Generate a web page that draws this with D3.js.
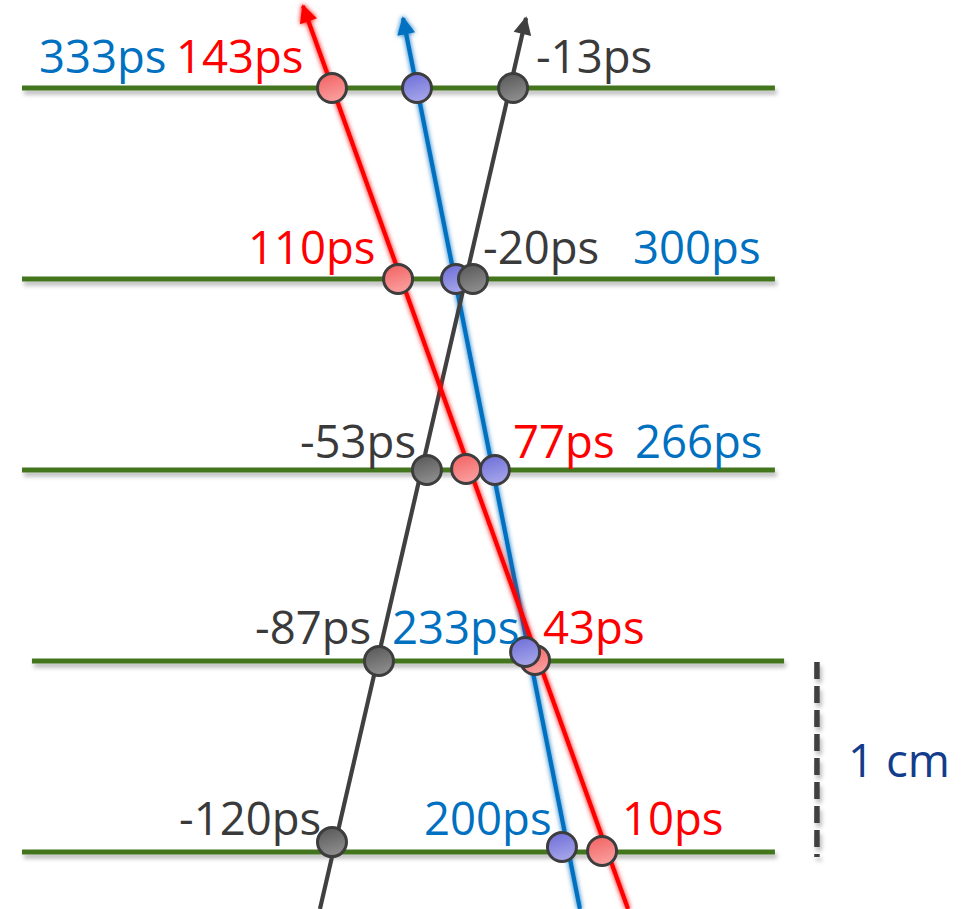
<!DOCTYPE html>
<html>
<head>
<meta charset="utf-8">
<script src="https://cdn.jsdelivr.net/npm/d3@7"></script>
<style>
  html, body { margin: 0; padding: 0; background: #ffffff; }
  svg { display: block; }
  text { font-family: "Open Sans", "DejaVu Sans", sans-serif; }
</style>
</head>
<body>
<svg id="chart" width="973" height="909"></svg>
<script>
// ---------------- data ----------------
// detector layers (index, top = 0)
const layers = [0, 1, 2, 3, 4];
// hit times per track and layer (ps)
const redTimes   = [143, 110, 77, 43, 10];
const blueTimes  = [333, 300, 266, 233, 200];
const blackTimes = [-13, -20, -53, -87, -120];
// hit positions along each layer (cm)
const redHitX   = [1.623, 1.969, 2.325, 2.686, 3.037];
const blueHitX  = [2.068, 2.272, 2.476, 2.634, 2.827];
const blackHitX = [2.571, 2.361, 2.120, 1.869, 1.623];
// hit depth (layer units) – slightly off-layer where the markers were nudged
const redHitY   = [0, 1, 1.995, 2.995, 3.995];
const blueHitY  = [0, 1, 2, 2.953, 3.974];
const blackHitY = [0, 1, 2, 3, 3.948];
// track start (bottom) and end (arrow, top) in [cm, layer]
const redTrack   = [[3.173, 4.298], [1.471, -0.429]];
const blueTrack  = [[2.921, 4.298], [1.995, -0.366]];
const blackTrack = [[1.560, 4.298], [2.639, -0.366]];
// layer extents (cm)
const layerStart = [0, 0, 0, 0.052, 0];
const layerEnd   = [3.942, 3.942, 3.942, 3.990, 3.942];
// label placement along layer (cm) for each track's time label
const redLabelX   = [0.806, 1.183, 2.571, 2.728, 3.141];
const blueLabelX  = [0.089, 3.199, 3.209, 1.937, 2.105];
const blackLabelX = [2.691, 2.414, 1.455, 1.220, 0.822];
const labelRise   = [15, 15, 12, 17, 17];
// scale bar (1 cm)
const scaleBarX = 4.162, scaleBarFrom = 3.005, scaleBarTo = 4.026;
const scaleLabel = "1 cm";
const scaleLabelPos = [4.325, 3.607];

// ---------------- scales ----------------
const W = 973, H = 909;
const svg = d3.select("#chart");
const x = d3.scaleLinear().domain([0, 5]).range([22, 22 + 5 * 191]);
const y = d3.scaleLinear().domain([0, 4]).range([88, 852]);

const defs = svg.append("defs");
const shadow = defs.append("filter").attr("id", "shadow")
  .attr("filterUnits", "userSpaceOnUse")
  .attr("x", 0).attr("y", 0).attr("width", W).attr("height", H);
shadow.append("feDropShadow").attr("dx", 2).attr("dy", 4).attr("stdDeviation", 2.2)
  .attr("flood-color", "#000").attr("flood-opacity", 0.28);

const glow = defs.append("filter").attr("id", "glow")
  .attr("filterUnits", "userSpaceOnUse")
  .attr("x", 0).attr("y", 0).attr("width", W).attr("height", H);
glow.append("feGaussianBlur").attr("in", "SourceGraphic").attr("stdDeviation", 2.5).attr("result", "b");
const gm = glow.append("feMerge");
gm.append("feMergeNode").attr("in", "b");
gm.append("feMergeNode").attr("in", "SourceGraphic");

const tracks = [
  {name: "blue",  color: "#0070c0", pts: blueTrack,  times: blueTimes,  hx: blueHitX,  hy: blueHitY,  lx: blueLabelX,
   grad: ["#6b6bd6", "#a3a3ea"], text: "#0070c0"},
  {name: "black", color: "#404040", pts: blackTrack, times: blackTimes, hx: blackHitX, hy: blackHitY, lx: blackLabelX,
   grad: ["#555555", "#8c8c8c"], text: "#3a3a3a"},
  {name: "red",   color: "#ff0000", pts: redTrack,   times: redTimes,   hx: redHitX,   hy: redHitY,   lx: redLabelX,
   grad: ["#f25f5f", "#fa9c9c"], text: "#ff0000"}
];

tracks.forEach(t => {
  const g = defs.append("linearGradient").attr("id", "g-" + t.name)
    .attr("x1", 0).attr("y1", 0).attr("x2", 0.3).attr("y2", 1);
  g.append("stop").attr("offset", "0%").attr("stop-color", t.grad[0]);
  g.append("stop").attr("offset", "100%").attr("stop-color", t.grad[1]);
  defs.append("marker").attr("id", "arrow-" + t.name)
    .attr("viewBox", "0 0 10 10").attr("refX", 9).attr("refY", 5)
    .attr("markerUnits", "userSpaceOnUse")
    .attr("markerWidth", 22).attr("markerHeight", 18).attr("orient", "auto")
    .append("path").attr("d", "M0,0 L10,5 L0,10 Z").attr("fill", t.color);
});

// ---------------- layers ----------------
svg.append("g").selectAll("line").data(layers).join("line")
  .attr("x1", d => x(layerStart[d])).attr("x2", d => x(layerEnd[d]))
  .attr("y1", d => y(d)).attr("y2", d => y(d))
  .attr("stroke", "#43741f").attr("stroke-width", 5)
  .attr("filter", "url(#shadow)");

// ---------------- tracks ----------------
const line = d3.line().x(d => x(d[0])).y(d => y(d[1]));
const tg = svg.append("g");
tracks.forEach(t => {
  tg.append("path").attr("d", line(t.pts))
    .attr("fill", "none").attr("stroke", t.color).attr("stroke-width", 4.2)
    .attr("filter", t.name === "black" ? null : "url(#glow)")
    .attr("marker-end", "url(#arrow-" + t.name + ")");
});

// ---------------- hits ----------------
const order = ["red", "blue", "black"];
const hg = svg.append("g");
order.forEach(n => {
  const t = tracks.find(d => d.name === n);
  hg.selectAll(null).data(layers).join("circle")
    .attr("cx", d => x(t.hx[d])).attr("cy", d => y(t.hy[d]))
    .attr("r", 14.5)
    .attr("fill", "url(#g-" + t.name + ")")
    .attr("stroke", "#3d3d3d").attr("stroke-width", 3);
});

// ---------------- labels ----------------
const lg = svg.append("g");
tracks.forEach(t => {
  lg.selectAll(null).data(layers).join("text")
    .attr("x", d => x(t.lx[d])).attr("y", d => y(d) - labelRise[d])
    .attr("font-size", 45.5).attr("fill", t.text)
    .text(d => t.times[d] + "ps");
});

// ---------------- scale bar ----------------
svg.append("line")
  .attr("x1", x(scaleBarX)).attr("x2", x(scaleBarX))
  .attr("y1", y(scaleBarFrom)).attr("y2", y(scaleBarTo))
  .attr("stroke", "#404040").attr("stroke-width", 5.5)
  .attr("stroke-dasharray", "17,7")
  .attr("filter", "url(#shadow)");
svg.append("text")
  .attr("x", x(scaleLabelPos[0])).attr("y", y(scaleLabelPos[1]))
  .attr("font-size", 45.5).attr("fill", "#143c8c")
  .text(scaleLabel);
</script>
</body>
</html>
